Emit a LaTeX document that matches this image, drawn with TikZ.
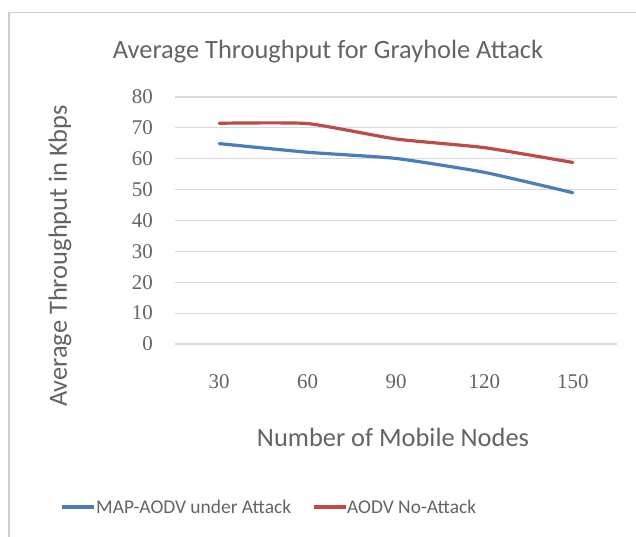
\documentclass[tikz,border=0pt]{standalone}
\usepackage{fontspec}
\setmainfont{Carlito}
\newfontfamily\numfont{Liberation Serif}
\definecolor{txtgray}{HTML}{646464}
\definecolor{gridgray}{HTML}{D9D9D9}
\definecolor{framegray}{HTML}{D0D0D0}
\definecolor{serblue}{HTML}{4A7EBB}
\definecolor{serred}{HTML}{BE4B48}
\tikzset{
  gridline/.style={draw=gridgray, line width=1.2bp},
  ticklbl/.style={text=txtgray, font=\numfont\fontsize{21}{24}\selectfont, inner sep=0pt},
  titlelbl/.style={text=txtgray, font=\fontsize{26.5}{30}\selectfont, inner sep=0pt},
  legendlbl/.style={text=txtgray, font=\fontsize{19.5}{22}\selectfont, inner sep=0pt, anchor=west},
  seriesblue/.style={draw=serblue, line width=3.2bp, line cap=round, line join=round},
  seriesred/.style={draw=serred, line width=3.2bp, line cap=round, line join=round}
}
\begin{document}
\begin{tikzpicture}[x=1bp, y=-1bp]
  \useasboundingbox (0,0) rectangle (636,537);
  \fill[white] (0,0) rectangle (636,537);
  % chart frame (top and left edges)
  \draw[framegray, line width=1.6bp] (9,537) -- (9,12.5) -- (636,12.5);

  % title
  \node[titlelbl] (title) at (328,52) {Average Throughput for Grayhole Attack};

  % horizontal gridlines and value labels
  \foreach \v [count=\i] in {0,10,...,80} {
    \draw[gridline] (175,{344-\v*3.0875}) -- (617,{344-\v*3.0875});
    \node[ticklbl, anchor=east] (ylab\i) at (153,{344-\v*3.0875}) {\v};
  }

  % category labels
  \foreach \c [count=\i] in {30,60,90,120,150} {
    \node[ticklbl] (xlab\i) at ({175+88.4*(\i-0.5)},382) {\c};
  }

  % axis titles
  \node[titlelbl, rotate=90] (ytitle) at (60,256) {Average Throughput in Kbps};
  \node[titlelbl] (xtitle) at (393,437) {Number of Mobile Nodes};

  % data series
  \draw[seriesred] plot[smooth, tension=0.3] coordinates {
    (219.2,{344-71.5*3.0875}) (307.6,{344-71.4*3.0875}) (396,{344-66.4*3.0875})
    (484.4,{344-63.6*3.0875}) (572.8,{344-58.8*3.0875})};
  \draw[seriesblue] plot[smooth, tension=0.3] coordinates {
    (219.2,{344-64.9*3.0875}) (307.6,{344-62.1*3.0875}) (396,{344-60.1*3.0875})
    (484.4,{344-55.6*3.0875}) (572.8,{344-49.0*3.0875})};

  % legend
  \coordinate (lgb1) at (62,507);
  \coordinate (lgb2) at (94,507);
  \draw[seriesblue, line cap=butt] (lgb1) -- (lgb2);
  \node[legendlbl] (lgbtxt) at (96,507) {MAP-AODV under Attack};
  \coordinate (lgr1) at (314,507);
  \coordinate (lgr2) at (346,507);
  \draw[seriesred, line cap=butt] (lgr1) -- (lgr2);
  \node[legendlbl] (lgrtxt) at (347,507) {AODV No-Attack};
\end{tikzpicture}
\end{document}
